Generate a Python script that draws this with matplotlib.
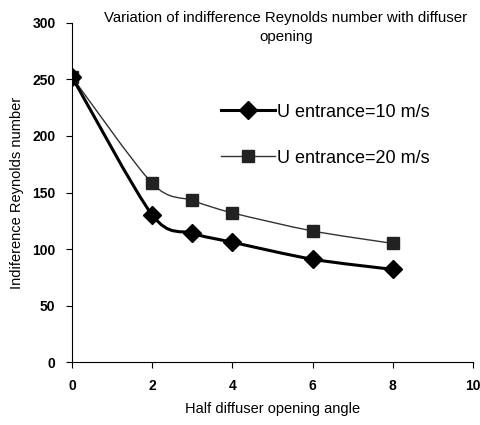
import matplotlib.pyplot as plt
import numpy as np
from matplotlib.path import Path
from matplotlib.patches import PathPatch
from matplotlib.lines import Line2D

plt.rcParams['font.family'] = ['Liberation Sans', 'DejaVu Sans']

# Données
angles = [0, 2, 3, 4, 6, 8]
re_10 = [252, 130, 114, 106, 91, 82]
re_20 = [252, 158, 143, 132, 116, 105]


def smooth_path(x, y):
    # courbe lissée type Excel (Catmull-Rom -> Bézier)
    x = np.asarray(x, float)
    y = np.asarray(y, float)
    verts = [(x[0], y[0])]
    codes = [Path.MOVETO]
    n = len(x)
    for i in range(n - 1):
        p0 = (x[max(i - 1, 0)], y[max(i - 1, 0)])
        p1 = (x[i], y[i])
        p2 = (x[i + 1], y[i + 1])
        p3 = (x[min(i + 2, n - 1)], y[min(i + 2, n - 1)])
        c1 = (p1[0] + (p2[0] - p0[0]) / 7, p1[1] + (p2[1] - p0[1]) / 7)
        c2 = (p2[0] - (p3[0] - p1[0]) / 7, p2[1] - (p3[1] - p1[1]) / 7)
        verts += [c1, c2, p2]
        codes += [Path.CURVE4] * 3
    return Path(verts, codes)


fig = plt.figure(figsize=(4.81, 4.25), dpi=100)
ax = fig.add_axes([0.150, 0.148, 0.833, 0.798])

ax.add_patch(PathPatch(smooth_path(angles, re_20), fill=False, edgecolor='#333333', lw=1.0))
ax.add_patch(PathPatch(smooth_path(angles, re_10), fill=False, edgecolor='black', lw=2.2))
ax.plot(angles, re_20, ls='none', marker='s', ms=9, color='#222222')
ax.plot(angles, re_10, ls='none', marker='D', ms=9, color='black')

ax.set_xlim(0, 10)
ax.set_ylim(0, 300)
ax.set_xticks(range(0, 11, 2))
ax.set_yticks(range(0, 301, 50))
for s in ['top', 'right']:
    ax.spines[s].set_visible(False)
ax.tick_params(direction='out', length=4, labelsize=10, pad=8)
for lab in ax.get_xticklabels() + ax.get_yticklabels():
    lab.set_fontweight('bold')

ax.set_xlabel('Half diffuser opening angle', fontsize=10.5, labelpad=7)
ax.set_ylabel('Indiference Reynolds number', fontsize=10.5, labelpad=6)

fig.text(0.594, 0.975, 'Variation of indifference Reynolds number with diffuser\nopening',
         ha='center', va='top', fontsize=10.8, linespacing=1.45)

handles = [Line2D([], [], color='black', lw=2.2, marker='D', ms=9),
           Line2D([], [], color='#333333', lw=1.0, marker='s', ms=9, mfc='#222222', mec='#222222')]
ax.legend(handles, ['U entrance=10 m/s', 'U entrance=20 m/s'], loc='upper left',
          bbox_to_anchor=(0.33, 0.81), frameon=False, fontsize=13, handlelength=3.0,
          handletextpad=0.1, labelspacing=1.6)

plt.savefig('out.png', dpi=100)
